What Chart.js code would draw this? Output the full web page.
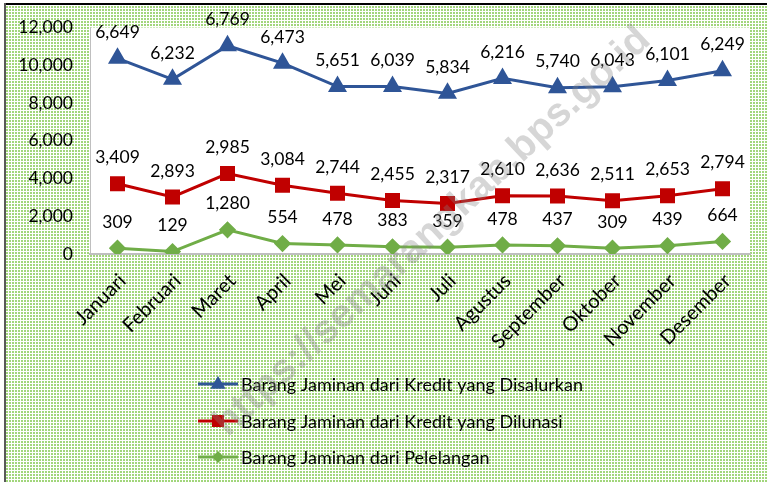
<!DOCTYPE html>
<html>
<head>
<meta charset="utf-8">
<script src="https://cdn.jsdelivr.net/npm/chart.js@4/dist/chart.umd.min.js"></script>
<style>
	html, body { margin: 0; padding: 0; background: #fff; }
	#wrap { width: 767px; height: 482px; }
</style>
</head>
<body>
<div id="wrap"><canvas id="chart" width="767" height="482"></canvas></div>
<script>
const months = ['Januari', 'Februari', 'Maret', 'April', 'Mei', 'Juni', 'Juli', 'Agustus', 'September', 'Oktober', 'November', 'Desember'];
const disalurkan = [6649, 6232, 6769, 6473, 5651, 6039, 5834, 6216, 5740, 6043, 6101, 6249];
const dilunasi = [3409, 2893, 2985, 3084, 2744, 2455, 2317, 2610, 2636, 2511, 2653, 2794];
const pelelangan = [309, 129, 1280, 554, 478, 383, 359, 478, 437, 309, 439, 664];
const yTicks = [0, 2000, 4000, 6000, 8000, 10000, 12000];

const FONT = "Lato, 'Open Sans', sans-serif";
const BLUE = '#2f5597';
const RED = '#c00000';
const GREEN = '#70ad47';

function fmt(v) {
	return v.toLocaleString('en-US');
}

// dotted green fill like the Excel chart area
function makePattern(ctx) {
	const tile = document.createElement('canvas');
	tile.width = 3;
	tile.height = 3;
	const t = tile.getContext('2d');
	t.fillStyle = '#ffffff';
	t.fillRect(0, 0, 3, 3);
	t.fillStyle = '#a2d67c';
	t.fillRect(0, 0, 2, 2);
	return ctx.createPattern(tile, 'repeat');
}

function drawMarker(ctx, style, x, y, r, color) {
	ctx.save();
	ctx.fillStyle = color;
	ctx.beginPath();
	if (style === 'triangle') {
		ctx.moveTo(x, y - r);
		ctx.lineTo(x + r * 0.95, y + r * 0.6);
		ctx.lineTo(x - r * 0.95, y + r * 0.6);
	} else if (style === 'rect') {
		ctx.rect(x - r, y - r, 2 * r, 2 * r);
	} else {
		ctx.moveTo(x, y - r);
		ctx.lineTo(x + r, y);
		ctx.lineTo(x, y + r);
		ctx.lineTo(x - r, y);
	}
	ctx.closePath();
	ctx.fill();
	ctx.restore();
}

const backgroundPlugin = {
	id: 'background',
	beforeDraw(chart) {
		const { ctx, width, height, chartArea } = chart;
		ctx.save();
		ctx.fillStyle = '#ffffff';
		ctx.fillRect(0, 0, width, height);
		ctx.fillStyle = makePattern(ctx);
		ctx.fillRect(6, 5, width - 6, height - 5);
		ctx.fillStyle = '#ffffff';
		ctx.fillRect(chartArea.left, chartArea.top, chartArea.right - chartArea.left, chartArea.bottom - chartArea.top);
		ctx.fillStyle = '#000000';
		ctx.fillRect(4, 3, width - 4, 2);
		ctx.fillStyle = '#595959';
		ctx.fillRect(4, 3, 2, height - 3);
		ctx.restore();
	},
};

const valueLabelsPlugin = {
	id: 'valueLabels',
	afterDatasetsDraw(chart) {
		const { ctx } = chart;
		ctx.save();
		ctx.font = '17.5px ' + FONT;
		ctx.fillStyle = '#000000';
		ctx.textAlign = 'center';
		ctx.textBaseline = 'middle';
		chart.data.datasets.forEach((ds, i) => {
			chart.getDatasetMeta(i).data.forEach((pt, j) => {
				ctx.fillText(fmt(ds.data[j]), pt.x, pt.y - 26);
			});
		});
		ctx.restore();
	},
};

const legendRows = [
	{ dataset: 2, y: 384 },
	{ dataset: 1, y: 421 },
	{ dataset: 0, y: 457 },
];

const sideLegendPlugin = {
	id: 'sideLegend',
	afterDraw(chart) {
		const { ctx } = chart;
		ctx.save();
		ctx.font = '18px ' + FONT;
		ctx.textBaseline = 'middle';
		ctx.textAlign = 'left';
		legendRows.forEach((row) => {
			const ds = chart.data.datasets[row.dataset];
			ctx.strokeStyle = ds.borderColor;
			ctx.lineWidth = 3;
			ctx.beginPath();
			ctx.moveTo(198, row.y);
			ctx.lineTo(238, row.y);
			ctx.stroke();
			drawMarker(ctx, ds.pointStyle, 218, row.y, ds.legendMarker, ds.borderColor);
			ctx.fillStyle = '#000000';
			ctx.fillText(ds.label, 241, row.y + 1);
		});
		ctx.restore();
	},
};

const watermarkPlugin = {
	id: 'watermark',
	afterDraw(chart) {
		const { ctx } = chart;
		ctx.save();
		ctx.translate(652, 42);
		ctx.rotate(-43 * Math.PI / 180);
		ctx.font = "bold 40px 'Liberation Sans', Arial, sans-serif";
		ctx.fillStyle = 'rgba(130, 130, 130, 0.33)';
		ctx.textAlign = 'right';
		ctx.textBaseline = 'alphabetic';
		ctx.fillText('https://semarangkab.bps.go.id', 0, 0);
		ctx.restore();
	},
};

const ctx = document.getElementById('chart');

new Chart(ctx, {
	type: 'line',
	data: {
		labels: months,
		datasets: [
			{
				label: 'Barang Jaminan dari Pelelangan',
				data: pelelangan,
				borderColor: GREEN,
				backgroundColor: GREEN,
				pointStyle: 'rectRot',
				pointRadius: 6.5,
				legendMarker: 6,
				borderWidth: 3,
				fill: false,
			},
			{
				label: 'Barang Jaminan dari Kredit yang Dilunasi',
				data: dilunasi,
				borderColor: RED,
				backgroundColor: RED,
				pointStyle: 'rect',
				pointRadius: 8.5,
				legendMarker: 6,
				borderWidth: 3,
				fill: false,
			},
			{
				label: 'Barang Jaminan dari Kredit yang Disalurkan',
				data: disalurkan,
				borderColor: BLUE,
				backgroundColor: BLUE,
				pointStyle: 'triangle',
				pointRadius: 8,
				legendMarker: 8,
				borderWidth: 3,
				fill: false,
			},
		],
	},
	options: {
		responsive: false,
		animation: false,
		layout: {
			padding: { top: 27, right: 17, left: 0, bottom: 0 },
		},
		plugins: {
			legend: { display: false },
			tooltip: { enabled: false },
		},
		scales: {
			x: {
				offset: true,
				grid: { display: false, drawTicks: false, offset: true },
				border: { display: true, color: '#bfbfbf', width: 2 },
				ticks: {
					color: '#000000',
					font: { family: FONT, size: 20 },
					maxRotation: 45,
					minRotation: 45,
					padding: 15,
					labelOffset: 5,
					autoSkip: false,
				},
				afterFit(scale) {
					scale.height = 228;
				},
			},
			y: {
				stacked: true,
				min: 0,
				max: 12000,
				grid: { display: false, drawTicks: false },
				border: { display: true, color: '#bfbfbf', width: 1 },
				afterBuildTicks(scale) {
					scale.ticks = yTicks.map((v) => ({ value: v }));
				},
				ticks: {
					color: '#000000',
					font: { family: FONT, size: 17.5 },
					padding: 17,
					callback: (value) => fmt(value),
				},
				afterFit(scale) {
					scale.width = 90;
				},
			},
		},
	},
	plugins: [backgroundPlugin, valueLabelsPlugin, sideLegendPlugin, watermarkPlugin],
});
</script>
</body>
</html>
